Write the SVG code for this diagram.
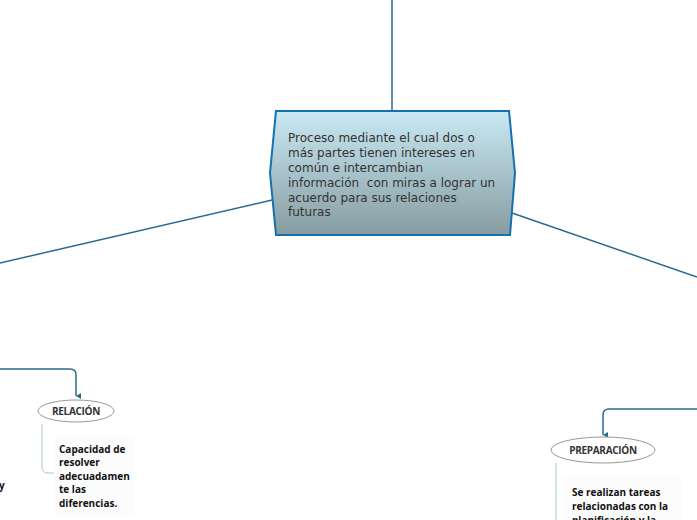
<svg xmlns="http://www.w3.org/2000/svg" width="697" height="520" viewBox="0 0 697 520">
<defs>
<linearGradient id="g" x1="0" y1="0" x2="0" y2="1">
<stop offset="0" stop-color="#c9e9f3"/>
<stop offset="1" stop-color="#869ca1"/>
</linearGradient>
<marker id="ar" markerWidth="8" markerHeight="8" refX="4" refY="6" orient="auto" markerUnits="userSpaceOnUse">
<path d="M1,1 L4,6 L7,1 Z" fill="#2a6a8f"/>
</marker>
<style>
.ln{fill:none;stroke:#2a6a8f;stroke-width:1.5}
.br{fill:none;stroke:#a9c6d3;stroke-width:1}
.ctr{font-family:"DejaVu Sans",sans-serif;font-size:12px;fill:#333}
.lbl{font-family:"Open Sans",sans-serif;font-size:10px;font-weight:bold;fill:#333;text-anchor:middle}
.sub{font-family:"Open Sans",sans-serif;font-size:10px;font-weight:bold;fill:#111}
.el{fill:#fff;stroke:#999;stroke-width:1}
</style>
</defs>
<rect width="697" height="520" fill="#fff"/>
<g id="connectors">
<line class="ln" x1="392" y1="0" x2="392" y2="111"/>
<line class="ln" x1="272" y1="200" x2="0" y2="263"/>
<line class="ln" x1="512" y1="213" x2="697" y2="277"/>
<path class="ln" d="M0,369 H70 Q76,369 76,375 V396" marker-end="url(#ar)"/>
<path class="ln" d="M697,409 H609 Q603,409 603,415 V435" marker-end="url(#ar)"/>
<path class="br" d="M42,424 V467 Q42,473 48,473 H58"/>
<path class="br" d="M556,463 V520"/>
</g>
<g id="center">
<polygon points="276,111 509,111 515,173 510,235 276,235 270,173" fill="url(#g)" stroke="#1570b0" stroke-width="2"/>
<text class="ctr" xml:space="preserve"><tspan x="288" y="142">Proceso mediante el cual dos o</tspan><tspan x="288" y="157">más partes tienen intereses en</tspan><tspan x="288" y="172">común e intercambian</tspan><tspan x="288" y="187">información  con miras a lograr un</tspan><tspan x="288" y="202">acuerdo para sus relaciones</tspan><tspan x="288" y="216">futuras</tspan></text>
</g>
<g id="left-partial">
<text class="sub" x="-1" y="489">y</text>
</g>
<g id="relacion">
<ellipse class="el" cx="76" cy="411" rx="38" ry="11"/>
<text class="lbl" x="76" y="415" letter-spacing="-0.3">RELACIÓN</text>
</g>
<g id="relacion-text">
<rect x="54" y="437" width="80" height="78" fill="#fcfcfc"/>
<text class="sub"><tspan x="59" y="453">Capacidad de</tspan><tspan x="59" y="466">resolver</tspan><tspan x="59" y="480">adecuadamen</tspan><tspan x="59" y="493">te las</tspan><tspan x="59" y="507">diferencias.</tspan></text>
</g>
<g id="preparacion">
<ellipse class="el" cx="603" cy="450" rx="52" ry="13"/>
<text class="lbl" x="603" y="454" letter-spacing="-0.3">PREPARACIÓN</text>
</g>
<g id="preparacion-text">
<rect x="564" y="477" width="118" height="43" fill="#fcfcfc"/>
<text class="sub"><tspan x="572" y="496">Se realizan tareas</tspan><tspan x="572" y="510">relacionadas con la</tspan><tspan x="572" y="524">planificación y la</tspan></text>
</g>
</svg>
